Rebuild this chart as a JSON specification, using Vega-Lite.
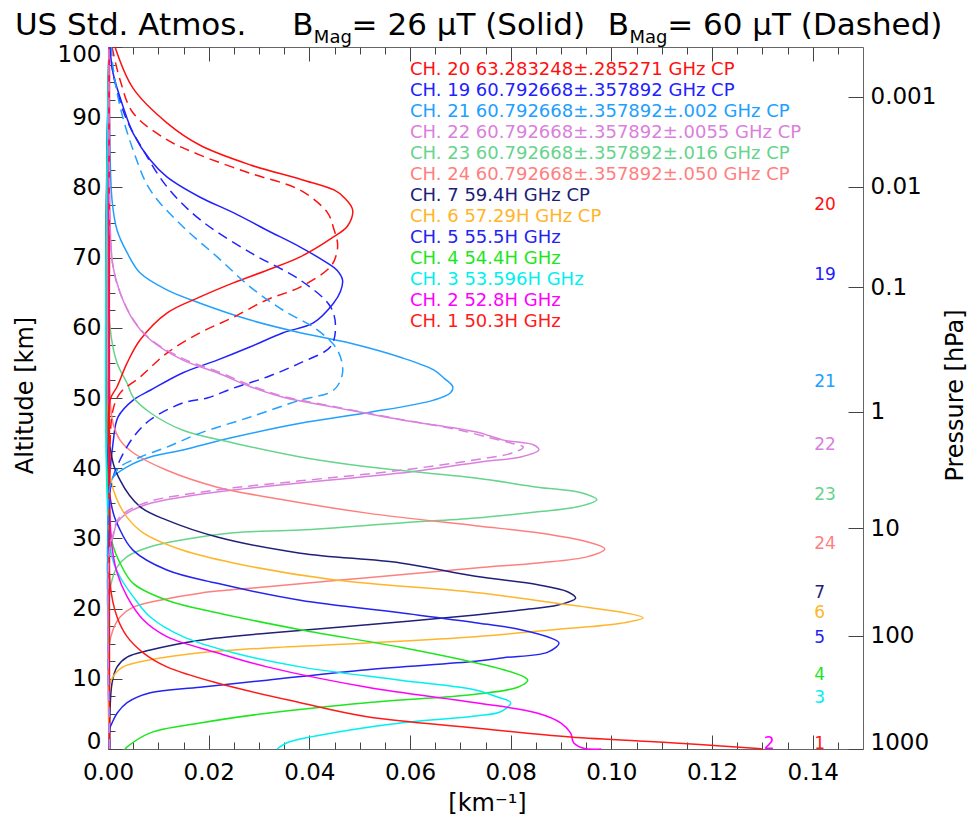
{
 "$schema": "https://vega.github.io/schema/vega-lite/v6.json",
 "width": 755, "height": 702,
 "autosize": {"type": "none"},
 "padding": {"left": 108, "top": 47, "right": 116, "bottom": 70},
 "background": "white",
 "config": {
  "view": {"stroke": "#666", "strokeWidth": 1},
  "axis": {"labelFont": "DejaVu Sans", "titleFont": "DejaVu Sans", "labelColor": "#000", "titleColor": "#000", "tickColor": "#444", "tickWidth": 1, "ticks": true, "grid": false, "domain": false, "titleFontWeight": "normal"}
 },
 "datasets": {
  "solid": [
   {"c":"19","a":0,"k":0.0003},{"c":"19","a":38,"k":0.0003},{"c":"19","a":43.6,"k":0.001},{"c":"19","a":47.3,"k":0.002},{"c":"19","a":49.7,"k":0.005},{"c":"19","a":51.1,"k":0.0084},{"c":"19","a":53.6,"k":0.0149},{"c":"19","a":55.4,"k":0.0217},{"c":"19","a":57.3,"k":0.0283},{"c":"19","a":59.3,"k":0.0348},{"c":"19","a":60.7,"k":0.0408},{"c":"19","a":63.5,"k":0.0448},{"c":"19","a":65.2,"k":0.0462},{"c":"19","a":66.8,"k":0.0466},{"c":"19","a":68.2,"k":0.0455},{"c":"19","a":69.2,"k":0.0436},{"c":"19","a":71.5,"k":0.0382},{"c":"19","a":73.9,"k":0.0316},{"c":"19","a":76.4,"k":0.0249},{"c":"19","a":78.6,"k":0.0183},{"c":"19","a":81.5,"k":0.0117},{"c":"19","a":83.9,"k":0.0084},{"c":"19","a":87.7,"k":0.005},{"c":"19","a":91.5,"k":0.003},{"c":"19","a":96.3,"k":0.001},{"c":"19","a":100,"k":0.0004},
   {"c":"21","a":0,"k":0.0003},{"c":"21","a":37,"k":0.0003},{"c":"21","a":38.7,"k":0.001},{"c":"21","a":40.2,"k":0.0038},{"c":"21","a":41.6,"k":0.0084},{"c":"21","a":42.6,"k":0.0149},{"c":"21","a":44.4,"k":0.0249},{"c":"21","a":46.4,"k":0.0382},{"c":"21","a":47.9,"k":0.0515},{"c":"21","a":49.7,"k":0.0647},{"c":"21","a":50.7,"k":0.068},{"c":"21","a":51.6,"k":0.0685},{"c":"21","a":52.8,"k":0.0668},{"c":"21","a":54,"k":0.0647},{"c":"21","a":55.8,"k":0.0581},{"c":"21","a":57.8,"k":0.0482},{"c":"21","a":59.3,"k":0.0382},{"c":"21","a":61.1,"k":0.0283},{"c":"21","a":63.5,"k":0.0183},{"c":"21","a":65.4,"k":0.0117},{"c":"21","a":67.8,"k":0.0064},{"c":"21","a":70.7,"k":0.0038},{"c":"21","a":73.9,"k":0.0018},{"c":"21","a":78.2,"k":0.0008},{"c":"21","a":90,"k":0.0003},{"c":"21","a":100,"k":0.0002},
   {"c":"22","a":0,"k":0.0003},{"c":"22","a":28,"k":0.0003},{"c":"22","a":30.2,"k":0.001},{"c":"22","a":32.2,"k":0.0018},{"c":"22","a":33.6,"k":0.0038},{"c":"22","a":35,"k":0.0084},{"c":"22","a":35.9,"k":0.0149},{"c":"22","a":36.9,"k":0.0249},{"c":"22","a":37.9,"k":0.0382},{"c":"22","a":39.3,"k":0.0581},{"c":"22","a":40.9,"k":0.074},{"c":"22","a":41.6,"k":0.082},{"c":"22","a":42.6,"k":0.0856},{"c":"22","a":43.3,"k":0.0846},{"c":"22","a":44,"k":0.0786},{"c":"22","a":45.2,"k":0.073},{"c":"22","a":46.9,"k":0.0581},{"c":"22","a":48.7,"k":0.0448},{"c":"22","a":50.1,"k":0.0348},{"c":"22","a":51.6,"k":0.0283},{"c":"22","a":53.6,"k":0.0217},{"c":"22","a":55.4,"k":0.0149},{"c":"22","a":58.3,"k":0.0084},{"c":"22","a":61.1,"k":0.005},{"c":"22","a":65,"k":0.0024},{"c":"22","a":68.7,"k":0.001},{"c":"22","a":75,"k":0.0004},{"c":"22","a":100,"k":0.0002},
   {"c":"23","a":0,"k":0.0003},{"c":"23","a":22,"k":0.0003},{"c":"23","a":24.1,"k":0.0008},{"c":"23","a":25.9,"k":0.0018},{"c":"23","a":27.4,"k":0.0038},{"c":"23","a":28.8,"k":0.0084},{"c":"23","a":29.8,"k":0.0149},{"c":"23","a":30.8,"k":0.0249},{"c":"23","a":31.2,"k":0.0382},{"c":"23","a":32.2,"k":0.0581},{"c":"23","a":32.9,"k":0.073},{"c":"23","a":33.8,"k":0.0854},{"c":"23","a":34.5,"k":0.0933},{"c":"23","a":35.5,"k":0.0971},{"c":"23","a":36.5,"k":0.094},{"c":"23","a":37.3,"k":0.0854},{"c":"23","a":38.6,"k":0.073},{"c":"23","a":40.2,"k":0.0515},{"c":"23","a":41.6,"k":0.0382},{"c":"23","a":43.6,"k":0.0249},{"c":"23","a":45.4,"k":0.0149},{"c":"23","a":47.9,"k":0.0084},{"c":"23","a":50.1,"k":0.005},{"c":"23","a":52.1,"k":0.0038},{"c":"23","a":55,"k":0.0018},{"c":"23","a":60.1,"k":0.0004},{"c":"23","a":70,"k":0.0003},{"c":"23","a":100,"k":0.0002},
   {"c":"24","a":0,"k":0.0003},{"c":"24","a":15,"k":0.0003},{"c":"24","a":17,"k":0.001},{"c":"24","a":18.8,"k":0.0024},{"c":"24","a":20.2,"k":0.005},{"c":"24","a":21.2,"k":0.0103},{"c":"24","a":22.2,"k":0.0183},{"c":"24","a":23.1,"k":0.0316},{"c":"24","a":24.4,"k":0.0515},{"c":"24","a":25.8,"k":0.073},{"c":"24","a":26.5,"k":0.0854},{"c":"24","a":27.4,"k":0.0953},{"c":"24","a":28.5,"k":0.0987},{"c":"24","a":29.5,"k":0.0953},{"c":"24","a":30.8,"k":0.0854},{"c":"24","a":31.8,"k":0.073},{"c":"24","a":33.6,"k":0.0515},{"c":"24","a":35.5,"k":0.0348},{"c":"24","a":37.3,"k":0.0217},{"c":"24","a":39.7,"k":0.0117},{"c":"24","a":42.2,"k":0.005},{"c":"24","a":44,"k":0.0024},{"c":"24","a":46.4,"k":0.001},{"c":"24","a":50,"k":0.0004},{"c":"24","a":100,"k":0.0002},
   {"c":"7","a":0,"k":0.0003},{"c":"7","a":9.4,"k":0.0008},{"c":"7","a":11.7,"k":0.0018},{"c":"7","a":13.1,"k":0.0038},{"c":"7","a":14.1,"k":0.0084},{"c":"7","a":15.5,"k":0.0183},{"c":"7","a":16.5,"k":0.0316},{"c":"7","a":17.7,"k":0.0515},{"c":"7","a":19.1,"k":0.073},{"c":"7","a":19.8,"k":0.082},{"c":"7","a":20.5,"k":0.0894},{"c":"7","a":21.5,"k":0.0929},{"c":"7","a":22.4,"k":0.0913},{"c":"7","a":23.4,"k":0.0854},{"c":"7","a":24.6,"k":0.073},{"c":"7","a":26.5,"k":0.0581},{"c":"7","a":27.9,"k":0.0382},{"c":"7","a":30.2,"k":0.0217},{"c":"7","a":32.6,"k":0.0117},{"c":"7","a":34.5,"k":0.0064},{"c":"7","a":38.3,"k":0.0024},{"c":"7","a":43,"k":0.0004},{"c":"7","a":100,"k":0.0002},
   {"c":"6","a":0,"k":0.0003},{"c":"6","a":9,"k":0.0003},{"c":"6","a":10.3,"k":0.001},{"c":"6","a":11.7,"k":0.003},{"c":"6","a":12.7,"k":0.0084},{"c":"6","a":13.7,"k":0.0183},{"c":"6","a":14.4,"k":0.0316},{"c":"6","a":15.1,"k":0.0515},{"c":"6","a":16,"k":0.073},{"c":"6","a":17,"k":0.0886},{"c":"6","a":17.9,"k":0.1019},{"c":"6","a":18.7,"k":0.1063},{"c":"6","a":19.5,"k":0.1019},{"c":"6","a":20.5,"k":0.0919},{"c":"6","a":22.3,"k":0.073},{"c":"6","a":24.1,"k":0.0448},{"c":"6","a":26.5,"k":0.0249},{"c":"6","a":28.3,"k":0.0149},{"c":"6","a":30.8,"k":0.007},{"c":"6","a":33,"k":0.0038},{"c":"6","a":35.5,"k":0.0018},{"c":"6","a":38.7,"k":0.0005},{"c":"6","a":100,"k":0.0002},
   {"c":"5","a":0,"k":0.0003},{"c":"5","a":3,"k":0.0004},{"c":"5","a":3.7,"k":0.0008},{"c":"5","a":5.1,"k":0.0018},{"c":"5","a":6.6,"k":0.0038},{"c":"5","a":8,"k":0.0084},{"c":"5","a":8.8,"k":0.0183},{"c":"5","a":9.8,"k":0.0316},{"c":"5","a":11.3,"k":0.0515},{"c":"5","a":12.5,"k":0.073},{"c":"5","a":13,"k":0.0786},{"c":"5","a":13.8,"k":0.0874},{"c":"5","a":15.1,"k":0.0896},{"c":"5","a":15.8,"k":0.088},{"c":"5","a":17,"k":0.082},{"c":"5","a":18,"k":0.073},{"c":"5","a":19.4,"k":0.0581},{"c":"5","a":21.2,"k":0.0382},{"c":"5","a":23.6,"k":0.0217},{"c":"5","a":25.5,"k":0.0117},{"c":"5","a":28.3,"k":0.005},{"c":"5","a":31.2,"k":0.0024},{"c":"5","a":35.5,"k":0.0005},{"c":"5","a":100,"k":0.0002},
   {"c":"4","a":0,"k":0.0034},{"c":"4","a":0.3,"k":0.0038},{"c":"4","a":2.3,"k":0.0084},{"c":"4","a":3.7,"k":0.0183},{"c":"4","a":5.1,"k":0.0316},{"c":"4","a":6.6,"k":0.0515},{"c":"4","a":7.8,"k":0.073},{"c":"4","a":8.8,"k":0.0814},{"c":"4","a":9.8,"k":0.0834},{"c":"4","a":10.3,"k":0.0826},{"c":"4","a":11.3,"k":0.0786},{"c":"4","a":12.3,"k":0.073},{"c":"4","a":14.5,"k":0.0581},{"c":"4","a":17,"k":0.0382},{"c":"4","a":19.4,"k":0.0217},{"c":"4","a":21.2,"k":0.0117},{"c":"4","a":23.6,"k":0.005},{"c":"4","a":26.5,"k":0.0024},{"c":"4","a":30.2,"k":0.0006},{"c":"4","a":100,"k":0.0002},
   {"c":"3","a":0,"k":0.0336},{"c":"3","a":0.9,"k":0.0356},{"c":"3","a":2.3,"k":0.0448},{"c":"3","a":3.7,"k":0.0581},{"c":"3","a":4.7,"k":0.073},{"c":"3","a":5.3,"k":0.078},{"c":"3","a":6.6,"k":0.08},{"c":"3","a":7.4,"k":0.0774},{"c":"3","a":8.4,"k":0.073},{"c":"3","a":9.8,"k":0.0581},{"c":"3","a":11.7,"k":0.0382},{"c":"3","a":13.7,"k":0.0249},{"c":"3","a":16,"k":0.0149},{"c":"3","a":18.8,"k":0.0084},{"c":"3","a":21.7,"k":0.005},{"c":"3","a":24.5,"k":0.0024},{"c":"3","a":28,"k":0.0006},{"c":"3","a":100,"k":0.0002},
   {"c":"2","a":0,"k":0.098},{"c":"2","a":0.1,"k":0.0945},{"c":"2","a":0.9,"k":0.0925},{"c":"2","a":2.3,"k":0.0919},{"c":"2","a":3.7,"k":0.09},{"c":"2","a":5.1,"k":0.0854},{"c":"2","a":6.6,"k":0.073},{"c":"2","a":8.8,"k":0.0515},{"c":"2","a":11.7,"k":0.0316},{"c":"2","a":13.7,"k":0.0217},{"c":"2","a":16,"k":0.0117},{"c":"2","a":18.4,"k":0.007},{"c":"2","a":21.7,"k":0.0038},{"c":"2","a":25.1,"k":0.0018},{"c":"2","a":28.8,"k":0.0008},{"c":"2","a":35,"k":0.0003},{"c":"2","a":100,"k":0.0002},
   {"c":"1","a":0,"k":0.13},{"c":"1","a":0.1,"k":0.1284},{"c":"1","a":0.9,"k":0.1118},{"c":"1","a":1.7,"k":0.0919},{"c":"1","a":3,"k":0.073},{"c":"1","a":4.6,"k":0.0515},{"c":"1","a":6.6,"k":0.0382},{"c":"1","a":9.4,"k":0.0217},{"c":"1","a":11.7,"k":0.0117},{"c":"1","a":13.7,"k":0.007},{"c":"1","a":16,"k":0.0038},{"c":"1","a":18.8,"k":0.0018},{"c":"1","a":23.6,"k":0.0004},{"c":"1","a":30,"k":0.0003},{"c":"1","a":100,"k":0.0003},
   {"c":"20","a":0,"k":0.0003},{"c":"20","a":40,"k":0.0003},{"c":"20","a":49.7,"k":0.0004},{"c":"20","a":51.6,"k":0.0018},{"c":"20","a":55,"k":0.0038},{"c":"20","a":58.3,"k":0.0064},{"c":"20","a":62.1,"k":0.0117},{"c":"20","a":64.4,"k":0.0183},{"c":"20","a":66.4,"k":0.0249},{"c":"20","a":68.2,"k":0.0316},{"c":"20","a":70.1,"k":0.0382},{"c":"20","a":72.8,"k":0.0445},{"c":"20","a":74.5,"k":0.0476},{"c":"20","a":76.8,"k":0.0486},{"c":"20","a":78.5,"k":0.047},{"c":"20","a":79.6,"k":0.045},{"c":"20","a":81.1,"k":0.0385},{"c":"20","a":83.2,"k":0.0283},{"c":"20","a":86,"k":0.0183},{"c":"20","a":89.2,"k":0.0117},{"c":"20","a":94.1,"k":0.005},{"c":"20","a":100,"k":0.0014}
  ],
  "dashed": [
   {"c":"20","a":0,"k":0.0003},{"c":"20","a":40,"k":0.0003},{"c":"20","a":48.3,"k":0.001},{"c":"20","a":50.7,"k":0.0024},{"c":"20","a":53,"k":0.0064},{"c":"20","a":56.4,"k":0.0117},{"c":"20","a":59.3,"k":0.0183},{"c":"20","a":61.5,"k":0.0249},{"c":"20","a":64,"k":0.0316},{"c":"20","a":65.8,"k":0.0382},{"c":"20","a":68.7,"k":0.0442},{"c":"20","a":70.5,"k":0.0454},{"c":"20","a":72.1,"k":0.0456},{"c":"20","a":74,"k":0.0449},{"c":"20","a":76.4,"k":0.0436},{"c":"20","a":79.6,"k":0.0382},{"c":"20","a":82,"k":0.0283},{"c":"20","a":84.6,"k":0.0183},{"c":"20","a":86.8,"k":0.0117},{"c":"20","a":90.6,"k":0.005},{"c":"20","a":95.3,"k":0.0024},{"c":"20","a":100,"k":0.0008},
   {"c":"19","a":0,"k":0.0003},{"c":"19","a":36,"k":0.0003},{"c":"19","a":38.7,"k":0.001},{"c":"19","a":41.2,"k":0.0024},{"c":"19","a":44.4,"k":0.005},{"c":"19","a":46.9,"k":0.0084},{"c":"19","a":49.3,"k":0.0149},{"c":"19","a":50,"k":0.0197},{"c":"19","a":51.4,"k":0.0249},{"c":"19","a":53,"k":0.0316},{"c":"19","a":55,"k":0.0382},{"c":"19","a":57.3,"k":0.0442},{"c":"19","a":60.1,"k":0.0452},{"c":"19","a":63,"k":0.0442},{"c":"19","a":66.8,"k":0.0382},{"c":"19","a":70.7,"k":0.0283},{"c":"19","a":75.4,"k":0.0183},{"c":"19","a":80.1,"k":0.0117},{"c":"19","a":85.3,"k":0.007},{"c":"19","a":90,"k":0.0035},{"c":"19","a":96.3,"k":0.001},{"c":"19","a":100,"k":0.0005},
   {"c":"21","a":0,"k":0.0003},{"c":"21","a":37,"k":0.0003},{"c":"21","a":38.7,"k":0.001},{"c":"21","a":40.2,"k":0.0024},{"c":"21","a":41.6,"k":0.0064},{"c":"21","a":43,"k":0.0117},{"c":"21","a":45,"k":0.0183},{"c":"21","a":47.3,"k":0.0283},{"c":"21","a":49.7,"k":0.0382},{"c":"21","a":51.1,"k":0.0448},{"c":"21","a":53.6,"k":0.0466},{"c":"21","a":56.8,"k":0.0456},{"c":"21","a":59.7,"k":0.0416},{"c":"21","a":62.5,"k":0.0348},{"c":"21","a":65.8,"k":0.0283},{"c":"21","a":70.1,"k":0.0217},{"c":"21","a":74.4,"k":0.0149},{"c":"21","a":79.6,"k":0.0084},{"c":"21","a":85.3,"k":0.005},{"c":"21","a":91.5,"k":0.0024},{"c":"21","a":97.1,"k":0.001},{"c":"21","a":100,"k":0.0007},
   {"c":"22","a":0,"k":0.0003},{"c":"22","a":28.5,"k":0.0003},{"c":"22","a":30.5,"k":0.001},{"c":"22","a":32.5,"k":0.0018},{"c":"22","a":33.9,"k":0.0038},{"c":"22","a":35.3,"k":0.0084},{"c":"22","a":36.2,"k":0.0149},{"c":"22","a":37.2,"k":0.0249},{"c":"22","a":38.2,"k":0.0382},{"c":"22","a":39.7,"k":0.0581},{"c":"22","a":41.3,"k":0.074},{"c":"22","a":42.2,"k":0.0805},{"c":"22","a":43,"k":0.0825},{"c":"22","a":43.6,"k":0.08},{"c":"22","a":44.3,"k":0.076},{"c":"22","a":45.4,"k":0.07},{"c":"22","a":47.1,"k":0.0571},{"c":"22","a":48.9,"k":0.044},{"c":"22","a":50.3,"k":0.0345},{"c":"22","a":51.8,"k":0.0283},{"c":"22","a":53.8,"k":0.0217},{"c":"22","a":55.6,"k":0.0149},{"c":"22","a":58.4,"k":0.0084},{"c":"22","a":61.2,"k":0.005},{"c":"22","a":65,"k":0.0024},{"c":"22","a":68.7,"k":0.001},{"c":"22","a":75,"k":0.0004},{"c":"22","a":100,"k":0.0002}
  ]
 },
 "resolve": {"axis": {"x": "independent", "y": "independent"}},
 "layer": [
  {
   "data": {"name": "solid"},
   "mark": {"type": "line", "strokeWidth": 1.5, "interpolate": "catmull-rom"},
   "encoding": {
    "x": {"field": "k", "type": "quantitative", "scale": {"domain": [0, 0.15], "nice": false, "zero": false},
     "axis": {"orient": "bottom", "offset": -14, "values": [0, 0.02, 0.04, 0.06, 0.08, 0.1, 0.12, 0.14], "format": ".2f", "tickSize": 14, "labelPadding": 12, "labelFontSize": 23, "labelFlush": false, "labelOverlap": false, "title": "[km⁻¹]", "titleFontSize": 24, "titleX": 379, "titleY": 68, "titleAlign": "center", "titleBaseline": "middle"}},
    "y": {"field": "a", "type": "quantitative", "scale": {"domain": [0, 100], "nice": false, "zero": false},
     "axis": {"orient": "left", "offset": -14, "values": [0, 10, 20, 30, 40, 50, 60, 70, 80, 90, 100], "format": "d", "tickSize": 14, "labelPadding": 7, "labelFontSize": 23, "labelFlush": true, "labelFlushOffset": 4, "labelOverlap": false, "title": "Altitude [km]", "titleFontSize": 24, "titleAngle": -90, "titleX": -97, "titleY": 348, "titleAlign": "center", "titleBaseline": "middle"}},
    "color": {"field": "c", "type": "nominal",
     "scale": {"domain": ["20", "19", "21", "22", "23", "24", "7", "6", "5", "4", "3", "2", "1"],
      "range": ["#FF1010", "#2222FF", "#22A0FF", "#DA80DD", "#66D48C", "#FF7F7F", "#202078", "#FFB52A", "#2424F0", "#1EE61E", "#00F0F0", "#FF00FF", "#FF1A1A"]},
     "legend": {"orient": "none", "legendX": 284, "legendY": 14, "title": null, "padding": 0, "symbolSize": 0, "symbolOpacity": 0, "symbolStrokeWidth": 0, "labelOffset": 0, "labelFont": "DejaVu Sans", "labelFontSize": 18, "labelLimit": 600, "rowPadding": 3,
      "labelExpr": "{'20':'CH. 20 63.283248±.285271 GHz CP','19':'CH. 19 60.792668±.357892 GHz CP','21':'CH. 21 60.792668±.357892±.002 GHz CP','22':'CH. 22 60.792668±.357892±.0055 GHz CP','23':'CH. 23 60.792668±.357892±.016 GHz CP','24':'CH. 24 60.792668±.357892±.050 GHz CP','7':'CH. 7 59.4H GHz CP','6':'CH. 6 57.29H GHz CP','5':'CH. 5 55.5H GHz','4':'CH. 4 54.4H GHz','3':'CH. 3 53.596H GHz','2':'CH. 2 52.8H GHz','1':'CH. 1 50.3H GHz'}[datum.label]",
      "encode": {"labels": {"update": {"fill": {"scale": "color", "field": "value"}}}}}},
    "order": {"field": "a", "type": "quantitative"}
   }
  },
  {
   "data": {"name": "dashed"},
   "mark": {"type": "line", "strokeWidth": 1.5, "strokeDash": [10, 6], "interpolate": "catmull-rom"},
   "encoding": {
    "x": {"field": "k", "type": "quantitative",
     "axis": {"orient": "top", "offset": -14, "values": [0, 0.02, 0.04, 0.06, 0.08, 0.1, 0.12, 0.14], "labels": false, "tickSize": 14, "title": null}},
    "y": {"field": "a", "type": "quantitative",
     "axis": {"orient": "right", "offset": -15, "values": [0, 16.1, 31.48, 48.01, 65.81, 80.06, 92.88], "tickSize": 15, "labelPadding": 7, "labelFontSize": 23, "labelFlush": true, "labelFlushOffset": 5, "labelOverlap": false,
      "labelExpr": "datum.value < 1 ? '1000' : datum.value < 20 ? '100' : datum.value < 40 ? '10' : datum.value < 55 ? '1' : datum.value < 70 ? '0.1' : datum.value < 85 ? '0.01' : '0.001'",
      "title": "Pressure [hPa]", "titleFontSize": 24, "titleAngle": -90, "titleX": 107, "titleY": 348, "titleAlign": "center", "titleBaseline": "middle"}},
    "color": {"field": "c", "type": "nominal"},
    "order": {"field": "a", "type": "quantitative"}
   }
  },
  {
   "data": {"name": "solid"},
   "transform": [
    {"joinaggregate": [{"op": "max", "field": "k", "as": "kmax"}], "groupby": ["c"]},
    {"filter": "datum.k == datum.kmax && datum.c != '2'"}
   ],
   "mark": {"type": "text", "align": "left", "baseline": "alphabetic", "font": "DejaVu Sans", "fontSize": 17},
   "encoding": {
    "x": {"datum": 0.1403, "type": "quantitative",
     "axis": {"orient": "bottom", "offset": -7, "values": [0.005, 0.01, 0.015, 0.025, 0.03, 0.035, 0.045, 0.05, 0.055, 0.065, 0.07, 0.075, 0.085, 0.09, 0.095, 0.105, 0.11, 0.115, 0.125, 0.13, 0.135, 0.145], "labels": false, "tickSize": 7, "title": null}},
    "y": {"field": "a", "type": "quantitative",
     "axis": {"orient": "left", "offset": -7, "values": [2.5, 5, 7.5, 12.5, 15, 17.5, 22.5, 25, 27.5, 32.5, 35, 37.5, 42.5, 45, 47.5, 52.5, 55, 57.5, 62.5, 65, 67.5, 72.5, 75, 77.5, 82.5, 85, 87.5, 92.5, 95, 97.5], "labels": false, "tickSize": 7, "title": null}},
    "text": {"field": "c", "type": "nominal"},
    "color": {"field": "c", "type": "nominal"}
   }
  },
  {
   "data": {"name": "solid"},
   "transform": [
    {"joinaggregate": [{"op": "max", "field": "k", "as": "kmax"}], "groupby": ["c"]},
    {"filter": "datum.k == datum.kmax && datum.c == '2'"}
   ],
   "mark": {"type": "text", "align": "left", "baseline": "alphabetic", "font": "DejaVu Sans", "fontSize": 17},
   "encoding": {
    "x": {"datum": 0.1303, "type": "quantitative",
     "axis": {"orient": "top", "offset": -7, "values": [0.005, 0.01, 0.015, 0.025, 0.03, 0.035, 0.045, 0.05, 0.055, 0.065, 0.07, 0.075, 0.085, 0.09, 0.095, 0.105, 0.11, 0.115, 0.125, 0.13, 0.135, 0.145], "labels": false, "tickSize": 7, "title": null}},
    "y": {"field": "a", "type": "quantitative", "axis": null},
    "text": {"field": "c", "type": "nominal"},
    "color": {"field": "c", "type": "nominal"}
   }
  },
  {"data": {"values": [{}]},
   "mark": {"type": "text", "text": "US Std. Atmos.", "align": "left", "baseline": "alphabetic", "font": "DejaVu Sans", "fontSize": 31, "color": "#000"},
   "encoding": {"x": {"datum": -0.0185, "type": "quantitative", "axis": null}, "y": {"datum": 101.71, "type": "quantitative", "axis": null}}},
  {"data": {"values": [{}]},
   "mark": {"type": "text", "text": "B", "align": "left", "baseline": "alphabetic", "font": "DejaVu Sans", "fontSize": 31, "color": "#000"},
   "encoding": {"x": {"datum": 0.0366, "type": "quantitative", "axis": null}, "y": {"datum": 101.71, "type": "quantitative", "axis": null}}},
  {"data": {"values": [{}]},
   "mark": {"type": "text", "text": "Mag", "align": "left", "baseline": "alphabetic", "font": "DejaVu Sans", "fontSize": 18, "color": "#000"},
   "encoding": {"x": {"datum": 0.0409, "type": "quantitative", "axis": null}, "y": {"datum": 100.57, "type": "quantitative", "axis": null}}},
  {"data": {"values": [{}]},
   "mark": {"type": "text", "text": "= 26 μT (Solid)", "align": "left", "baseline": "alphabetic", "font": "DejaVu Sans", "fontSize": 31, "color": "#000"},
   "encoding": {"x": {"datum": 0.0484, "type": "quantitative", "axis": null}, "y": {"datum": 101.71, "type": "quantitative", "axis": null}}},
  {"data": {"values": [{}]},
   "mark": {"type": "text", "text": "B", "align": "left", "baseline": "alphabetic", "font": "DejaVu Sans", "fontSize": 31, "color": "#000"},
   "encoding": {"x": {"datum": 0.0993, "type": "quantitative", "axis": null}, "y": {"datum": 101.71, "type": "quantitative", "axis": null}}},
  {"data": {"values": [{}]},
   "mark": {"type": "text", "text": "Mag", "align": "left", "baseline": "alphabetic", "font": "DejaVu Sans", "fontSize": 18, "color": "#000"},
   "encoding": {"x": {"datum": 0.1036, "type": "quantitative", "axis": null}, "y": {"datum": 100.57, "type": "quantitative", "axis": null}}},
  {"data": {"values": [{}]},
   "mark": {"type": "text", "text": "= 60 μT (Dashed)", "align": "left", "baseline": "alphabetic", "font": "DejaVu Sans", "fontSize": 31, "color": "#000"},
   "encoding": {"x": {"datum": 0.1111, "type": "quantitative", "axis": null}, "y": {"datum": 101.71, "type": "quantitative", "axis": null}}}
 ]
}
